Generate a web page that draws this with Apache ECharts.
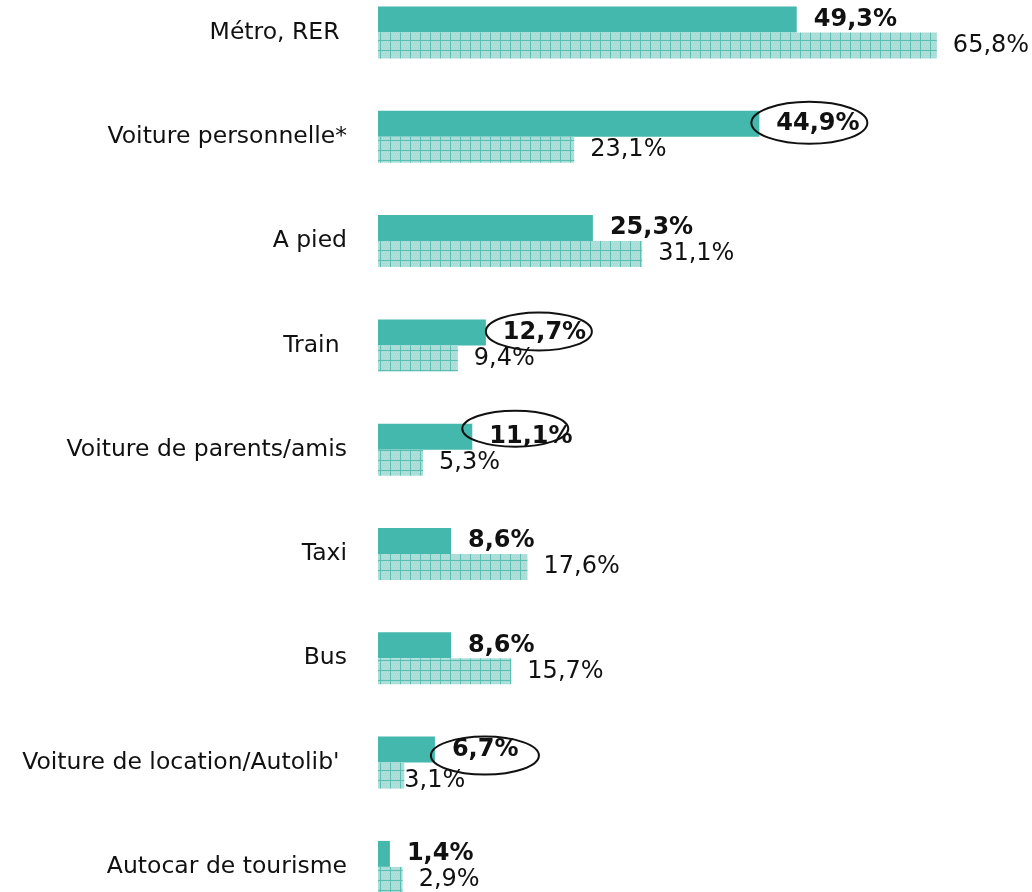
<!DOCTYPE html>
<html>
<head>
<meta charset="utf-8">
<script src="https://cdn.jsdelivr.net/npm/echarts@6/dist/echarts.min.js"></script>
<style>
html,body{margin:0;padding:0;background:#fff;}
#chart{width:1032px;height:892px;}
</style>
</head>
<body>
<div id="chart"></div>
<script>
// ---- data ----
const categories = ['Métro, RER ', 'Voiture personnelle*', 'A pied', 'Train ', 'Voiture de parents/amis', 'Taxi', 'Bus', "Voiture de location/Autolib' ", 'Autocar de tourisme'];
const seriesA = [49.3, 44.9, 25.3, 12.7, 11.1, 8.6, 8.6, 6.7, 1.4];
const seriesB = [65.8, 23.1, 31.1, 9.4, 5.3, 17.6, 15.7, 3.1, 2.9];
const circled = [1, 3, 4, 7];

// ---- styles ----
const labelDistB = {7: 0};
const labelDyB = {7: 5};
const ellipseStyle = {
  1: {dx: 50, dy: -1, rx: 58, ry: 21},
  3: {dx: 53, dy: -1, rx: 53, ry: 19},
  4: {dx: 43, dy: -8, rx: 53, ry: 18},
  7: {dx: 50, dy: 6, rx: 54, ry: 19}
};

function makePattern() {
  const c = document.createElement('canvas');
  c.width = 10; c.height = 10;
  const ctx = c.getContext('2d');
  ctx.fillStyle = '#a9dcd6';
  ctx.fillRect(0, 0, 10, 10);
  ctx.fillStyle = '#b7e2dd';
  for (let y = 0; y < 10; y += 2) for (let x = (y/2)%2; x < 10; x += 2) ctx.fillRect(x, y, 1, 1);
  ctx.fillStyle = '#5cbfb4';
  ctx.fillRect(0, 0, 10, 1);
  ctx.fillRect(0, 0, 1, 10);
  return c;
}

const fontFam = '"DejaVu Sans", sans-serif';
const fmt = p => String(p.value).replace('.', ',') + '%';
const chart = echarts.init(document.getElementById('chart'), null, {renderer: 'canvas'});

chart.setOption({
  animation: false,
  grid: {left: 378, right: 0, top: 32.5, bottom: 25.1, containLabel: false},
  xAxis: {type: 'value', min: 0, max: 77, show: false},
  yAxis: {
    type: 'category', data: categories, inverse: true, boundaryGap: false,
    axisLine: {show: false}, axisTick: {show: false}, splitLine: {show: false},
    axisLabel: {color: '#111', fontSize: 23.5, fontFamily: fontFam, margin: 31}
  },
  series: [
    {
      type: 'bar', data: seriesA, barWidth: 26, barGap: '0%',
      itemStyle: {color: '#45b8ad'},
      label: {show: true, position: 'right', distance: 17, formatter: fmt,
        color: '#111', fontSize: 24, fontWeight: 'bold', fontFamily: fontFam}
    },
    {
      type: 'bar', barWidth: 26, barGap: '0%',
      itemStyle: {color: {image: makePattern(), repeat: 'repeat'}},
      data: seriesB.map((v, i) => ({
        value: v,
        label: {distance: labelDistB[i] !== undefined ? labelDistB[i] : 16, offset: [0, labelDyB[i] || 0]}
      })),
      label: {show: true, position: 'right', formatter: fmt,
        color: '#111', fontSize: 24, fontWeight: 'normal', fontFamily: fontFam}
    },
    {
      type: 'custom', clip: false, z: 10,
      encode: {x: 1, y: 0},
      data: circled.map(i => [i, seriesA[i]]),
      renderItem: function (params, api) {
        const idx = api.value(0);
        const p = api.coord([api.value(1), idx]);
        const st = ellipseStyle[idx];
        return {
          type: 'ellipse',
          shape: {cx: p[0] + st.dx, cy: p[1] - 13 + st.dy, rx: st.rx, ry: st.ry},
          style: {fill: null, stroke: '#111', lineWidth: 2}
        };
      }
    }
  ]
});
</script>
</body>
</html>
